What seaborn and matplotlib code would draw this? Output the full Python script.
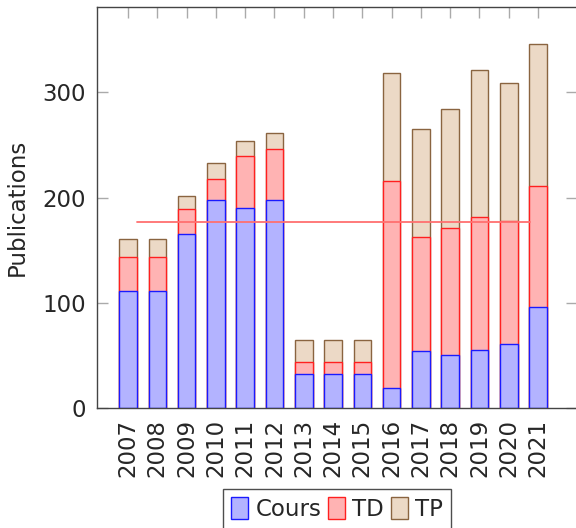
import numpy as np
import pandas as pd
import matplotlib
matplotlib.use("Agg")
import matplotlib.pyplot as plt
import seaborn as sns
from matplotlib.patches import Patch

years = [2007, 2008, 2009, 2010, 2011, 2012, 2013, 2014, 2015, 2016, 2017, 2018, 2019, 2020, 2021]
cours = [111, 111, 165, 198, 190, 198, 32, 32, 32, 19, 54, 50, 55, 61, 96]
td = [32, 32, 24, 20, 49, 48, 12, 12, 12, 197, 108, 121, 126, 117, 115]
tp = [18, 18, 12, 15, 15, 15, 21, 21, 21, 102, 103, 113, 140, 131, 135]
ref_value = 177
ref_span = [2007.32, 2020.71]

df = pd.DataFrame({"year": years, "Cours": cours, "TD": td, "TP": tp})
df["top_td"] = df["Cours"] + df["TD"]
df["top_tp"] = df["top_td"] + df["TP"]

sns.set_theme(style="white")
plt.rcParams["font.family"] = ["DejaVu Sans"]
fs = 16.5

fig = plt.figure(figsize=(5.76, 5.28), dpi=100)
ax = fig.add_axes([97 / 576, 1 - 408 / 528, 480 / 576, 401 / 528])

# stacked bars: draw cumulative tops back to front
sns.barplot(data=df, x="year", y="top_tp", native_scale=True, width=0.6,
            color="#ecd9c6", edgecolor="#8a6440", linewidth=1.0, saturation=1, ax=ax)
sns.barplot(data=df, x="year", y="top_td", native_scale=True, width=0.6,
            color="#ffb3b3", edgecolor="#ff2020", linewidth=1.0, saturation=1, ax=ax)
sns.barplot(data=df, x="year", y="Cours", native_scale=True, width=0.6,
            color="#b3b3ff", edgecolor="#1a1aff", linewidth=1.0, saturation=1, ax=ax)

sns.lineplot(x=ref_span, y=[ref_value, ref_value], color="#ff7070", linewidth=1.3, ax=ax)

ax.set_xlim(2005.94, 2022.33)
ax.set_ylim(0, 381)
ax.set_xticks(years)
ax.set_xticklabels([str(y) for y in years], rotation=90, fontsize=fs)
ax.set_yticks([0, 100, 200, 300])
ax.set_yticklabels(["0", "100", "200", "300"], fontsize=fs)
ax.set_xlabel("")
ax.set_ylabel("Publications", fontsize=fs, labelpad=10)

ax.tick_params(axis="both", direction="in", length=8, width=1, color="#aaaaaa",
               top=True, right=True, bottom=True, left=True, pad=8)
for s in ax.spines.values():
    s.set_color("#444444")
    s.set_linewidth(1.0)

handles = [Patch(facecolor="#b3b3ff", edgecolor="#1a1aff", label="Cours"),
           Patch(facecolor="#ffb3b3", edgecolor="#ff2020", label="TD"),
           Patch(facecolor="#ecd9c6", edgecolor="#8a6440", label="TP")]
leg = ax.legend(handles=handles, loc="upper center", bbox_to_anchor=(0.5, -0.202),
                ncol=3, fontsize=fs, frameon=True, fancybox=False,
                handlelength=0.75, handleheight=1.1, handletextpad=0.3,
                columnspacing=0.3, borderpad=0.35, borderaxespad=0)
leg.get_frame().set_edgecolor("#222222")
leg.get_frame().set_linewidth(1.0)

fig.savefig("out.png", dpi=100)
